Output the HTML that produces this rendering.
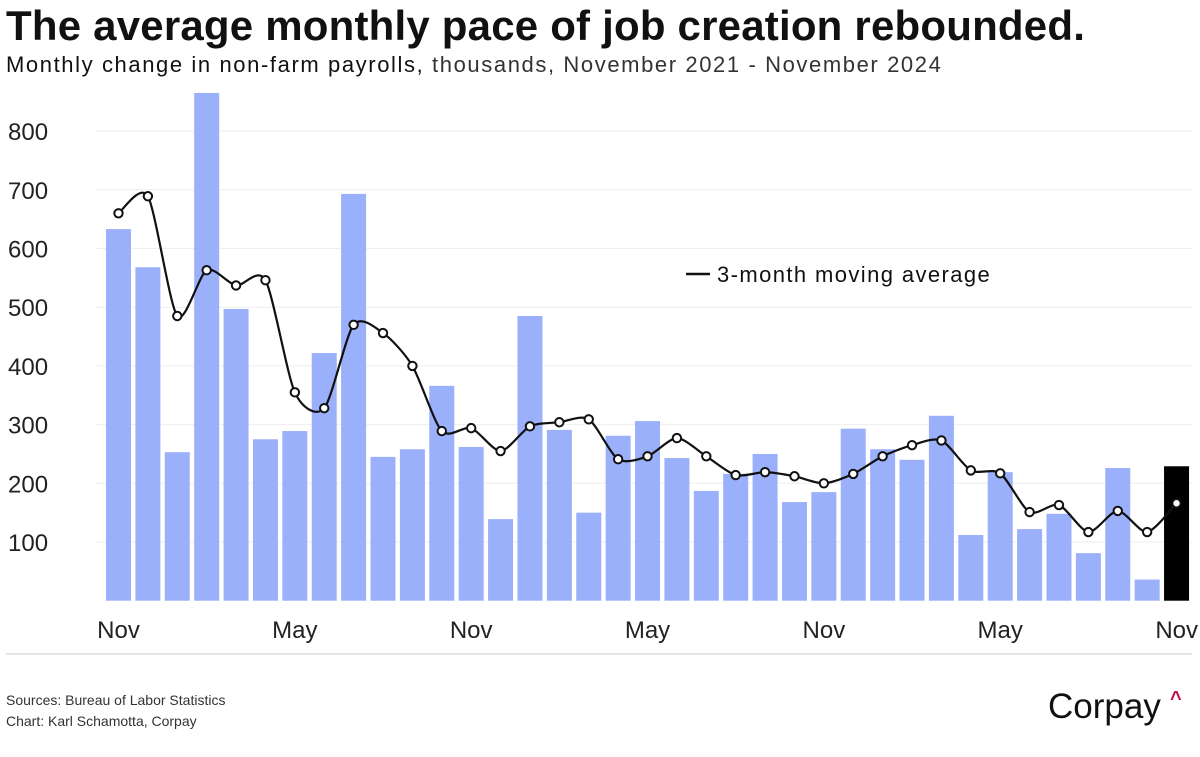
<!DOCTYPE html>
<html><head><meta charset="utf-8"><style>
body{margin:0;background:#fff;width:1200px;height:757px;overflow:hidden;font-family:"Liberation Sans",sans-serif;}
svg{position:absolute;left:0;top:0}
</style></head><body>
<svg id="c" width="1200" height="757">
<text x="6" y="40" font-size="42" font-weight="bold" fill="#111" letter-spacing="0.2">The average monthly pace of job creation rebounded.</text>
<text x="6" y="72" font-size="22" fill="#111" letter-spacing="1.6">Monthly change in non-farm payrolls, <tspan fill="#333">thousands, November 2021 - November 2024</tspan></text>
<g id="grid"></g><g id="bars"></g><g id="line"></g><g id="xl"></g>
<line x1="6" x2="1192" y1="654" y2="654" stroke="#ccc" stroke-width="1"/>
<line x1="686" x2="710" y1="274" y2="274" stroke="#111" stroke-width="2.5"/>
<text x="717" y="282" font-size="22" fill="#111" letter-spacing="1.4">3-month moving average</text>
<text x="6" y="705" font-size="14" fill="#333">Sources: Bureau of Labor Statistics</text>
<text x="6" y="726" font-size="14" fill="#333">Chart: Karl Schamotta, Corpay</text>
<text x="1048" y="718" font-size="35" fill="#111">Corpay</text>
<text x="1170" y="705" font-size="20" font-weight="bold" fill="#c0134d">^</text>
</svg>
<script>
const payrolls=[633,568,253,865,497,275,289,422,693,245,258,366,262,139,485,291,150,281,306,243,187,216,250,168,185,293,258,240,315,112,219,122,148,81,226,36,229];
const movingAvg=[660,689,485,563,537,546,355,328,470,456,400,289,294,255,297,304,309,241,246,277,246,214,219,212,200,216,246,265,273,222,217,151,163,117,153,117,166];
const yTicks=[100,200,300,400,500,600,700,800];
const xTickIdx=[0,6,12,18,24,30,36];
const xTickLabels=["Nov","May","Nov","May","Nov","May","Nov"];
const NS="http://www.w3.org/2000/svg";
const y=v=>600.7-v*0.587;
const x=i=>118.5+i*29.39;
function mk(t,a,p){const e=document.createElementNS(NS,t);for(const k in a)e.setAttribute(k,a[k]);p.appendChild(e);return e;}
const G=document.getElementById('grid');
yTicks.forEach(v=>{
 const l=mk('line',{x1:95,x2:1192,y1:y(v),y2:y(v),stroke:'#eee','stroke-width':1},G);
 
 
 const t=mk('text',{x:8,y:y(v)+9,'font-size':24,fill:'#222'},G);t.textContent=v;
 
 
});
const B=document.getElementById('bars');
payrolls.forEach((v,i)=>{
 const last=i===payrolls.length-1;
 const r=mk('rect',{x:x(i)-12.5,y:y(v),width:25,height:y(0)-y(v),fill:last?'#000':'#9bb0fb'},B);
 
 
});
const P=movingAvg.map((v,i)=>[x(i),y(v)]);
let d='M'+P[0][0]+','+P[0][1];
for(let i=0;i<P.length-1;i++){
 const p0=P[Math.max(i-1,0)],p1=P[i],p2=P[i+1],p3=P[Math.min(i+2,P.length-1)];
 const k=0.13;
 d+=` C${p1[0]+(p2[0]-p0[0])*k},${p1[1]+(p2[1]-p0[1])*k} ${p2[0]-(p3[0]-p1[0])*k},${p2[1]-(p3[1]-p1[1])*k} ${p2[0]},${p2[1]}`;
}
const L=document.getElementById('line');
const pa=mk('path',{d:d,fill:'none',stroke:'#111','stroke-width':2.2},L);


P.forEach(p=>{
 const c=mk('circle',{cx:p[0],cy:p[1],r:4.2,fill:'#fff',stroke:'#111','stroke-width':2},L);
 
 
});
const X=document.getElementById('xl');
xTickIdx.forEach((idx,j)=>{
 const last=j===xTickIdx.length-1;
 const t=mk('text',{x:last?1198:x(idx),y:638,'font-size':24,fill:'#222','text-anchor':last?'end':'middle'},X);
 t.textContent=xTickLabels[j];
 
 
});
</script>
</body></html>
